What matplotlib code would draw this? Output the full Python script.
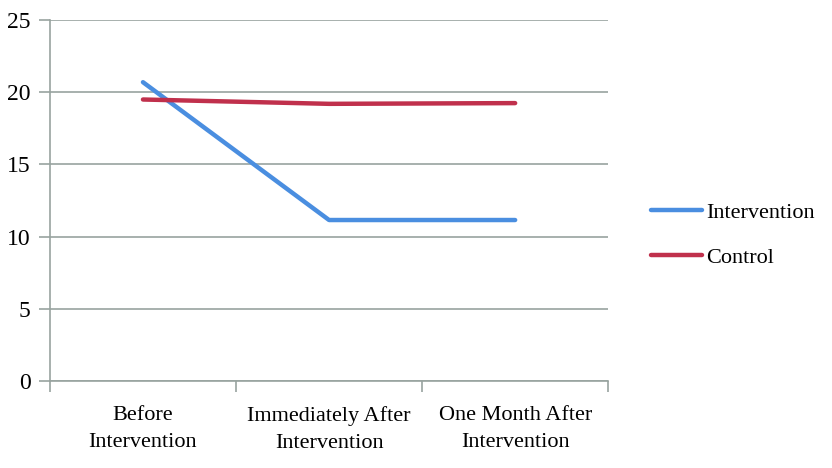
import matplotlib
matplotlib.use("Agg")
import matplotlib.pyplot as plt
import numpy as np

# data
categories = ["Before\nIntervention", "Immediately After\nIntervention", "One Month After\nIntervention"]
intervention = [20.7, 11.15, 11.15]
control = [19.5, 19.2, 19.25]
yticks = [0, 5, 10, 15, 20, 25]

plt.rcParams['font.family'] = ['Liberation Serif']
grid_col = "#98a39f"

fig = plt.figure(figsize=(8.32, 4.68), dpi=100)
ax = fig.add_axes([0.060, 0.186, 0.671, 0.771])

x = np.arange(len(categories))
ax.plot(x, intervention, color="#4a8ee0", lw=3.2, solid_capstyle='round', label="Intervention")
ax.plot(x, control, color="#c0304c", lw=3.2, solid_capstyle='round', label="Control")

ax.set_xlim(-0.5, len(categories) - 0.5)
ax.set_ylim(0, 25)
ax.set_yticks(yticks)
ax.set_yticklabels([str(v) for v in yticks], fontsize=17)
ax.yaxis.grid(True, color=grid_col, lw=1.2)
ax.set_axisbelow(True)

ax.set_xticks(np.arange(len(categories) + 1) - 0.5)
ax.set_xticklabels([])
ax.set_xticks(x, minor=True)
ax.set_xticklabels(categories, minor=True, fontsize=16, linespacing=1.55)
ax.tick_params(axis='x', which='major', length=8, color=grid_col, width=1.2)
ax.tick_params(axis='x', which='minor', length=0, pad=18)
ax.tick_params(axis='y', length=8, color=grid_col, width=1.2, pad=6)

for s in ['top', 'right']:
    ax.spines[s].set_visible(False)
for s in ['left', 'bottom']:
    ax.spines[s].set_color(grid_col)
    ax.spines[s].set_linewidth(1.2)

ax.legend(loc='center left', bbox_to_anchor=(1.04, 0.405), frameon=False,
          fontsize=16, handlelength=2.3, handletextpad=0.2, labelspacing=1.1)

fig.savefig("out.png", dpi=100)
